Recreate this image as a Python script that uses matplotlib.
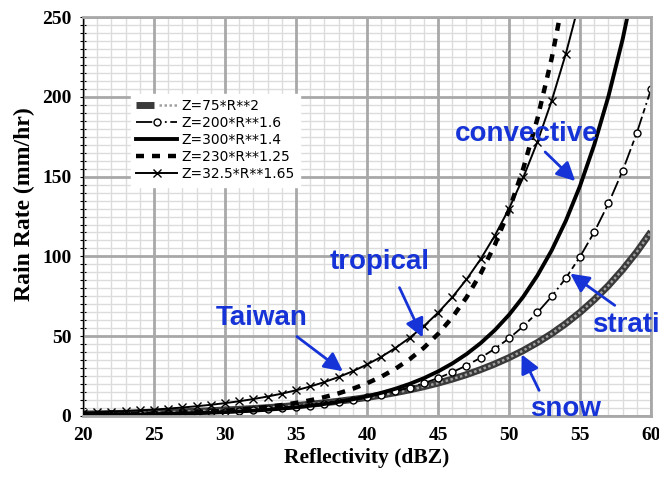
import matplotlib.pyplot as plt
from matplotlib.ticker import MultipleLocator
from matplotlib.legend_handler import HandlerTuple

# Reflectivity values (dBZ), one point per dB
dbz = list(range(20, 61))

# Rain rates (mm/hr)
snow = [1.155, 1.296, 1.454, 1.631, 1.830, 2.054, 2.304, 2.585, 2.901, 3.255,
        3.651, 4.097, 4.597, 5.158, 5.788, 6.494, 7.286, 8.175, 9.173, 10.29,
        11.55, 12.96, 14.54, 16.31, 18.30, 20.54, 23.04, 25.85, 29.01, 32.55,
        36.51, 40.97, 45.97, 51.58, 57.88, 64.94, 72.86, 81.75, 91.73, 102.9,
        115.5]
strat = [0.648, 0.749, 0.865, 0.998, 1.153, 1.332, 1.538, 1.776, 2.050, 2.368,
         2.734, 3.157, 3.646, 4.211, 4.862, 5.615, 6.484, 7.487, 8.646, 9.985,
         11.53, 13.32, 15.38, 17.76, 20.51, 23.68, 27.35, 31.58, 36.47, 42.11,
         48.62, 56.15, 64.84, 74.88, 86.46, 99.85, 115.3, 133.2, 153.8, 177.6,
         205.0]
convective = [0.456, 0.538, 0.634, 0.747, 0.881, 1.038, 1.224, 1.443, 1.700, 2.005,
              2.363, 2.786, 3.284, 3.871, 4.563, 5.379, 6.340, 7.474, 8.810, 10.38,
              12.24, 14.43, 17.01, 20.05, 23.63, 27.86, 32.84, 38.71, 45.63, 53.79,
              63.40, 74.74, 88.10, 103.8, 122.4, 144.3, 170.1, 200.5, 236.3, 278.6,
              328.4]
tropical = [0.514, 0.617, 0.742, 0.893, 1.073, 1.290, 1.551, 1.865, 2.242, 2.696,
            3.241, 3.896, 4.684, 5.632, 6.771, 8.140, 9.787, 11.77, 14.15, 17.01,
            20.45, 24.58, 29.55, 35.53, 42.72, 51.36, 61.75, 74.24, 89.25, 107.3,
            129.0, 155.1, 186.5, 224.2, 269.6]
taiwan = [1.976, 2.272, 2.612, 3.003, 3.453, 3.970, 4.564, 5.248, 6.034, 6.937,
          7.978, 9.172, 10.55, 12.13, 13.94, 16.03, 18.43, 21.19, 24.36, 28.01,
          32.21, 37.03, 42.58, 48.95, 56.28, 64.71, 74.40, 85.54, 98.34, 113.1,
          130.0, 149.5, 171.9, 197.6, 227.2, 261.2]

labels = ["Z=75*R**2", "Z=200*R**1.6", "Z=300*R**1.4",
          "Z=230*R**1.25", "Z=32.5*R**1.65"]

blue = '#1533d6'
major_grey = '#a8a8a8'
plt.rcParams['font.family'] = 'Liberation Serif'
plt.rcParams['font.weight'] = 'bold'

fig = plt.figure(figsize=(6.59, 4.78), dpi=100)
ax = fig.add_axes([0.126, 0.130, 0.862, 0.834])

# snow: thick patterned line (dark band with light speckle on top)
snow_a, = ax.plot(dbz, snow, color='#3a3a3a', lw=5, solid_capstyle='butt')
snow_b, = ax.plot(dbz, snow, color='#a0a0a0', lw=1.8, linestyle=(0, (1, 1)))
strat_l, = ax.plot(dbz, strat, color='black', lw=1.3,
                   linestyle=(0, (9, 2, 3, 2, 1, 2)),
                   marker='o', ms=5, mfc='white', mec='black', mew=1)
conv_l, = ax.plot(dbz, convective, color='black', lw=2.8)
trop_l, = ax.plot(dbz[:len(tropical)], tropical, color='black', lw=3.2,
                  linestyle=(0, (1.8, 1.8)))
tw_l, = ax.plot(dbz[:len(taiwan)], taiwan, color='black', lw=1.4,
                marker='x', ms=6, mew=1)

ax.set_xlim(20, 60)
ax.set_ylim(0, 250)
ax.xaxis.set_major_locator(MultipleLocator(5))
ax.xaxis.set_minor_locator(MultipleLocator(1))
ax.yaxis.set_major_locator(MultipleLocator(50))
ax.yaxis.set_minor_locator(MultipleLocator(5))

# light minor grid, darker major grid drawn over it
ax.set_axisbelow(True)
ax.grid(which='minor', color='#dcdcdc', lw=1)
for x in range(20, 61, 5):
    ax.axvline(x, color=major_grey, lw=2, zorder=0.8)
for y in range(0, 251, 50):
    ax.axhline(y, color=major_grey, lw=2, zorder=0.8)

for side in ['top', 'right', 'bottom']:
    ax.spines[side].set_color(major_grey)
    ax.spines[side].set_linewidth(2)
ax.spines['left'].set_color('black')
ax.spines['left'].set_linewidth(1)

ax.tick_params(axis='x', which='both', length=0, pad=8, labelsize=14)
ax.tick_params(axis='y', which='both', direction='inout', length=5,
               width=0.8, pad=6, labelsize=14)

ax.set_xlabel('Reflectivity (dBZ)', fontsize=15.5, fontweight='bold', labelpad=3)
ax.set_ylabel('Rain Rate (mm/hr)', fontsize=17, fontweight='bold', labelpad=4)
ax.yaxis.set_label_coords(-0.084, 0.53)

leg = ax.legend([(snow_a, snow_b), strat_l, conv_l, trop_l, tw_l], labels,
                handler_map={tuple: HandlerTuple(ndivide=None)},
                loc='upper left', bbox_to_anchor=(0.072, 0.826),
                prop={'family': 'DejaVu Sans', 'size': 10, 'weight': 'normal'},
                handlelength=2.9, handletextpad=0.3, labelspacing=0.22,
                borderpad=0.4, fancybox=False, framealpha=1,
                facecolor='white', edgecolor='white')
leg.set_zorder(5)

# blue annotations with arrows
tprops = dict(color=blue, fontsize=20, fontweight='bold', family='Liberation Sans')
aprops = dict(arrowstyle='-|>', color=blue, lw=2, mutation_scale=28)

ax.text(46.2, 177, 'convective', ha='left', va='center', **tprops)
ax.annotate('', xy=(54.8, 146), xytext=(52.4, 166.7), arrowprops=aprops)

ax.text(40.9, 96.5, 'tropical', ha='center', va='center', **tprops)
ax.annotate('', xy=(44.0, 47.6), xytext=(42.2, 82), arrowprops=aprops)

ax.text(32.6, 61.4, 'Taiwan', ha='center', va='center', **tprops)
ax.annotate('', xy=(38.45, 26.9), xytext=(34.9, 50.8), arrowprops=aprops)

ax.text(55.85, 57, 'strati', ha='left', va='center', clip_on=False, **tprops)
ax.annotate('', xy=(54.15, 90.2), xytext=(57.6, 68.3), arrowprops=aprops)

ax.text(54.0, 4.5, 'snow', ha='center', va='center', **tprops)
ax.annotate('', xy=(50.8, 40.1), xytext=(52.2, 14.4), arrowprops=aprops)

fig.savefig('out.png', dpi=100)
